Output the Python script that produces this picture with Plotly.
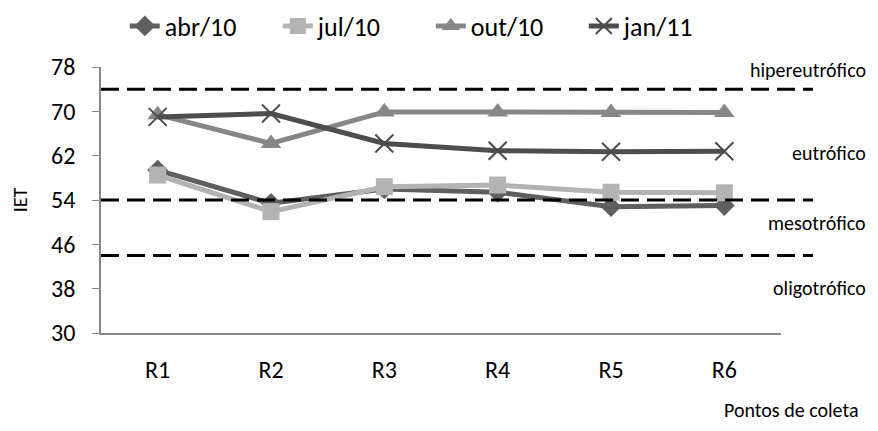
import plotly.graph_objects as go

categories = ["R1", "R2", "R3", "R4", "R5", "R6"]
abr10 = [59.4, 53.4, 56.0, 55.4, 52.8, 53.0]
jul10 = [58.5, 51.9, 56.4, 56.7, 55.4, 55.3]
out10 = [69.4, 64.2, 69.9, 69.9, 69.8, 69.8]
jan11 = [69.0, 69.6, 64.2, 62.9, 62.7, 62.8]

thresholds = [74, 54, 44]
class_labels = ["hipereutrófico", "eutrófico", "mesotrófico", "oligotrófico"]
class_label_y = [0.989, 0.677, 0.414, 0.169]

FONT = "Carlito, Lato, sans-serif"

series = [
    ("abr/10", abr10, "#5f5f5f", "diamond", 16, 0),
    ("jul/10", jul10, "#b3b3b3", "square", 17, 0),
    ("out/10", out10, "#878787", "triangle-up", 18, 0),
    ("jan/11", jan11, "#4d4d4d", "x-thin-open", 18, 2),
]

fig = go.Figure()
for name, vals, col, sym, sz, lw in series:
    fig.add_trace(go.Scatter(
        x=categories, y=vals, name=name, mode="lines+markers",
        line=dict(color=col, width=5),
        marker=dict(symbol=sym, size=sz, color=col, line=dict(color=col, width=lw)),
    ))

for t in thresholds:
    fig.add_shape(type="line", xref="paper", yref="y", x0=0, x1=1.047, y0=t, y1=t,
                  line=dict(color="black", width=3, dash="18px,8px"), layer="above")

for lab, yy in zip(class_labels, class_label_y):
    fig.add_annotation(text=lab, xref="paper", yref="paper", x=1.128, y=yy,
                       xanchor="right", yanchor="middle", showarrow=False,
                       font=dict(family=FONT, size=20, color="black"))

fig.add_annotation(text="Pontos de coleta", xref="paper", yref="paper", x=1.116, y=-0.289,
                   xanchor="right", yanchor="middle", showarrow=False,
                   font=dict(family=FONT, size=20, color="black"))

fig.update_layout(
    width=878, height=431,
    margin=dict(l=101, r=97, t=67, b=98, autoexpand=False),
    paper_bgcolor="white", plot_bgcolor="white",
    font=dict(family=FONT, color="black"),
    showlegend=True,
    legend=dict(orientation="h", x=0.035, y=1.154, xanchor="left", yanchor="middle",
                font=dict(family=FONT, size=26), entrywidth=108, entrywidthmode="pixels",
                bgcolor="rgba(0,0,0,0)", tracegroupgap=0),
    xaxis=dict(type="category", range=[-0.5, 5.5], showgrid=False, zeroline=False,
               showline=True, linecolor="#868686", linewidth=1.5, ticks="",
               tickfont=dict(family=FONT, size=24), ticklabelstandoff=14),
    yaxis=dict(range=[30, 78], dtick=8, tick0=30, showgrid=False, zeroline=False,
               showline=True, linecolor="#868686", linewidth=1.5, ticks="outside",
               ticklen=7, tickcolor="#868686", tickfont=dict(family=FONT, size=24),
               ticklabelstandoff=12,
               title=dict(text="IET", font=dict(family=FONT, size=20), standoff=18)),
)

fig.write_html("out.html")
